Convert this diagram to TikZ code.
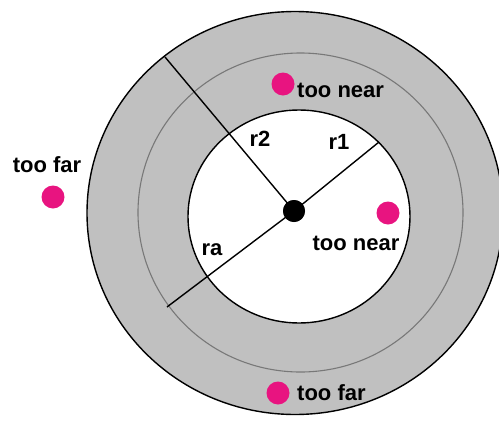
\documentclass[tikz,border=0pt]{standalone}
\usepackage{fontspec}
\setmainfont{Liberation Sans}
\definecolor{ringgray}{RGB}{192,192,192}
\definecolor{midgray}{RGB}{120,120,120}
\definecolor{dotpink}{RGB}{232,20,128}
\begin{document}
\begin{tikzpicture}[x=1pt,y=-1pt,
  blackline/.style={draw=black,line width=1.4pt},
  midline/.style={draw=midgray,line width=1.1pt},
  lbl/.style={font=\fontsize{22}{25}\selectfont\bfseries,inner sep=0pt,text=black},
  pinkdot/.style={circle,fill=dotpink,minimum size=23pt,inner sep=0pt},
  centerdot/.style={circle,fill=black,minimum size=22pt,inner sep=0pt}]
\useasboundingbox (0,0) rectangle (499,421);
\fill[white] (0,0) rectangle (499,421);
% rings
\filldraw[blackline,fill=ringgray] (295,213) ellipse [x radius=208, y radius=201.5];
\draw[midline] (300.5,212.5) ellipse [x radius=162.5, y radius=159.5];
\filldraw[blackline,fill=white] (299,216.5) ellipse [x radius=111, y radius=106.5];
% centre and radii
\node[centerdot] (c) at (294,211) {};
\coordinate (r2end) at (165,57);
\coordinate (r1end) at (379,142);
\coordinate (raend) at (167,307);
\draw[blackline] (c.center) -- (r2end);
\draw[blackline] (c.center) -- (r1end);
\draw[blackline] (c.center) -- (raend);
\node[centerdot] at (c) {};
\node[lbl] (lr2) at (260,139) {r2};
\node[lbl] (lr1) at (339,142) {r1};
\node[lbl] (lra) at (212,250) {ra};
% points
\node[pinkdot] (p1) at (283,84) {};
\node[lbl,anchor=west] (t1) at (297,90) {too near};
\node[pinkdot] (p2) at (388,213) {};
\node[lbl] (t2) at (356,243) {too near};
\node[lbl] (t3) at (47,165) {too far};
\node[pinkdot] (p3) at (53,197) {};
\node[pinkdot] (p4) at (278,393) {};
\node[lbl,anchor=west] (t4) at (297,393) {too far};
\end{tikzpicture}
\end{document}
